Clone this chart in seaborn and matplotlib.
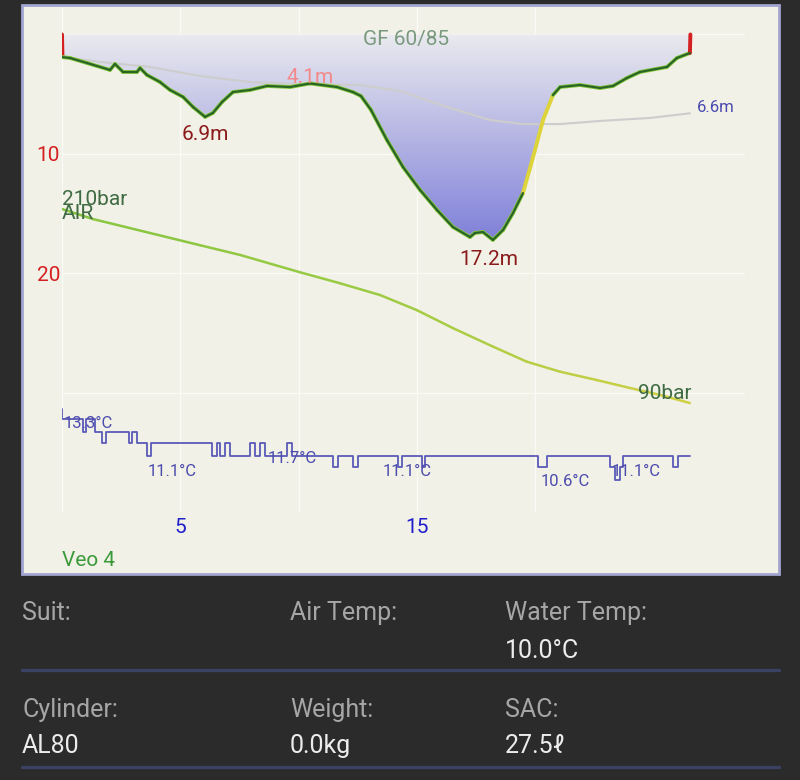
import numpy as np
import matplotlib
matplotlib.use("Agg")
import matplotlib.pyplot as plt
import seaborn as sns
from matplotlib.colors import LinearSegmentedColormap
from matplotlib.collections import LineCollection
from matplotlib.patches import Rectangle
from matplotlib.lines import Line2D

# ---- dive data (minutes / metres / bar / degC) ----
profile_time = [0.00, 0.02, 0.34, 1.06, 2.03, 2.24, 2.58, 3.17, 3.30, 3.59, 4.14, 4.57,
                5.12, 5.54, 6.05, 6.38, 6.77, 7.23, 7.95, 8.67, 9.64, 10.49, 11.63,
                12.30, 12.64, 13.06, 13.74, 14.42, 15.14, 15.86, 16.53, 17.25, 17.46,
                17.80, 18.22, 18.65, 19.07, 19.49, 19.92, 20.34, 20.76, 21.06, 21.90,
                22.75, 23.30, 23.89, 24.44, 25.58, 26.00, 26.55, 26.57]
profile_depth = [0.0, 1.9, 1.97, 2.39, 2.97, 2.47, 3.14, 3.14, 2.81, 3.39, 3.98, 4.65,
                 5.23, 6.07, 6.90, 6.57, 5.65, 4.82, 4.65, 4.31, 4.40, 4.10, 4.40,
                 4.82, 5.15, 6.30, 8.84, 11.10, 13.02, 14.70, 16.12, 16.96, 16.62,
                 16.54, 17.20, 16.37, 14.95, 13.28, 10.26, 7.16, 5.07, 4.40, 4.23,
                 4.48, 4.31, 3.64, 3.14, 2.72, 1.97, 1.55, 0.0]

avg_time = [0.00, 1.61, 3.72, 5.84, 7.95, 10.06, 12.60, 14.29, 16.41, 18.10, 19.49,
            21.06, 22.75, 24.86, 26.55]
avg_depth = [1.88, 2.30, 2.72, 3.48, 3.98, 4.15, 4.23, 4.73, 6.16, 7.16, 7.50,
             7.50, 7.24, 6.99, 6.60]

pressure_time = [0.00, 1.31, 5.84, 7.53, 10.06, 11.75, 13.45, 15.00, 16.55, 18.24,
                 19.65, 21.06, 22.62, 24.02, 25.30, 26.55]
pressure_bar = [210, 203.8, 187.6, 181.6, 170.9, 164.1, 156.8, 147.5, 136.2, 124.8,
                115.6, 109.4, 104.2, 99.3, 95.0, 90]

temp_time = [0.00, 0.02, 0.89, 1.01, 1.40, 1.69, 1.86, 2.83, 2.96, 3.17, 3.59, 3.76,
             6.34, 6.55, 6.68, 6.89, 7.10, 7.95, 8.16, 8.37, 8.58, 9.51, 9.73, 11.46,
             11.67, 12.30, 12.52, 14.21, 14.38, 15.22, 15.35, 20.13, 20.51, 23.17,
             23.38, 23.59, 23.72, 25.84, 26.05, 26.55]
temp_c = [13.3, 12.8, 12.2, 12.8, 12.2, 11.7, 12.2, 11.7, 12.2, 11.7, 11.1, 11.7,
          11.1, 11.7, 11.1, 11.7, 11.1, 11.7, 11.1, 11.7, 11.1, 11.7, 11.1, 10.6,
          11.1, 10.6, 11.1, 10.6, 11.1, 10.6, 11.1, 10.6, 11.1, 10.6,
          10.0, 10.6, 11.1, 10.6, 11.1, 11.1]

temp_label_time = [0.08, 4.67, 9.73, 14.61, 21.27, 24.27]
temp_label_value = [13.3, 11.1, 11.7, 11.1, 10.6, 11.1]

x_ticks = [0, 5, 10, 15, 20]
x_tick_labels = ["", "5", "", "15", ""]
y_ticks = [0, 10, 20, 30, 40]
y_tick_labels = ["", "10", "20", "", ""]

info_labels = ["Suit:", "Air Temp:", "Water Temp:", "Cylinder:", "Weight:", "SAC:"]
info_values = ["", "", "10.0°C", "AL80", "0.0kg", "27.5ℓ"]

# ---- style ----
sns.set_theme(style="white")
plt.rcParams['font.family'] = ['Roboto', 'DejaVu Sans']

W, H = 800, 780
fig = plt.figure(figsize=(8, 7.8), dpi=100)
fig.patch.set_facecolor('#2b2b2b')


def fx(px):
    return px / W


def fy(py):
    return 1 - py / H


panel = Rectangle((fx(22), fy(574)), (779 - 22) / W, (574 - 5) / H,
                  transform=fig.transFigure, facecolor='#f2f1e7',
                  edgecolor='#a3a4d0', lw=2, zorder=-1)
fig.patches.append(panel)

ax = fig.add_axes([fx(62), fy(512.2), 683 / W, 504 / H])
ax.set_facecolor('none')
for s in ax.spines.values():
    s.set_visible(False)

t_arr = np.array(profile_time)
d_arr = np.array(profile_depth)

# gradient fill under the profile
fill_cmap = LinearSegmentedColormap.from_list('depthfill', ['#eaeaef', '#7b7cd8'])
grad = np.linspace(0, 1, 256).reshape(-1, 1)
img = ax.imshow(grad, extent=[t_arr.min(), t_arr.max(), 18, 0], aspect='auto',
                cmap=fill_cmap, origin='upper', zorder=1, interpolation='bilinear')
poly = ax.fill_between(t_arr, 0, d_arr, facecolor='none', edgecolor='none')
img.set_clip_path(poly.get_paths()[0], transform=ax.transData)

# average depth line
sns.lineplot(x=avg_time, y=avg_depth, ax=ax, color='#cdcdcd', lw=1.5,
             estimator=None, sort=False, zorder=2)

# depth profile, coloured by vertical speed
pts = np.column_stack([t_arr, d_arr])
segs = np.stack([pts[:-1], pts[1:]], axis=1)
rate = np.diff(d_arr) / np.maximum(np.diff(t_arr), 1e-3)
seg_cols = []
for i, r in enumerate(rate):
    if i == 0 or i == len(rate) - 1:
        seg_cols.append('#d42020')
    elif r < -4.5:
        seg_cols.append('#dcd43a')
    else:
        seg_cols.append('#86c93c')
ax.add_collection(LineCollection(segs, colors=seg_cols, lw=2.8, zorder=3,
                                 capstyle='round'))
flat = [i for i, r in enumerate(rate) if abs(r) < 4 and 0 < i < len(rate) - 1]
ax.add_collection(LineCollection(segs[flat], colors='#2a6427', lw=1.6, zorder=4,
                                 capstyle='round'))

ax.set_xlim(0, 683 / 23.65)
ax.set_ylim(40, -2.2)
ax.set_xticks(x_ticks)
ax.set_xticklabels(x_tick_labels)
ax.set_yticks(y_ticks)
ax.set_yticklabels(y_tick_labels)
ax.tick_params(axis='y', colors='#d42020', labelsize=15, length=0, pad=1.5)
ax.tick_params(axis='x', colors='#1f1fcc', labelsize=15, length=0, pad=4)
ax.set_xlabel("")
ax.set_ylabel("")
ax.grid(True, color='#fafaf6', lw=1.0)
ax.set_axisbelow(True)

# depth annotations
i1 = int(np.argmax(np.where(t_arr < 10, d_arr, -1)))
i2 = int(np.argmax(d_arr))
i3 = int(np.argmin(np.where((t_arr > 8) & (t_arr < 12), d_arr, 99)))
ax.annotate(f"{d_arr[i1]:.1f}m", (t_arr[i1], d_arr[i1]), xytext=(0, -6),
            textcoords='offset points', ha='center', va='top', color='#8b1a1a',
            fontsize=15, zorder=6)
ax.annotate(f"{d_arr[i2]:.1f}m", (t_arr[i2], d_arr[i2]), xytext=(-3, -7),
            textcoords='offset points', ha='center', va='top', color='#8b1a1a',
            fontsize=15, zorder=6)
ax.annotate(f"{d_arr[i3]:.1f}m", (t_arr[i3], d_arr[i3]), xytext=(0, 0),
            textcoords='offset points', ha='center', va='baseline', color='#f28a8a',
            fontsize=15, zorder=6)
ax.annotate(f"{avg_depth[-1]:.1f}m", (avg_time[-1], avg_depth[-1]), xytext=(5, 4),
            textcoords='offset points', ha='left', va='center', color='#4a4ab0',
            fontsize=12, zorder=6)
ax.text(0.5037, 0.937, "GF 60/85", transform=ax.transAxes, ha='center', va='center',
        color='#7a9a80', fontsize=15, zorder=6)

# pressure on its own scale
axp = ax.twinx()
axp.set_axis_off()
axp.set_ylim(22.5, 334.2)
pt = np.array(pressure_time)
pb = np.array(pressure_bar)
ppts = np.column_stack([pt, pb])
psegs = np.stack([ppts[:-1], ppts[1:]], axis=1)
pcmap = LinearSegmentedColormap.from_list('press', ['#84c440', '#9ccb44', '#d2d044'])
pline = LineCollection(psegs, cmap=pcmap, lw=1.8, zorder=3, capstyle='round',
                       joinstyle='round')
pline.set_array((pt[:-1] + pt[1:]) / 2)
pline.set_clim(0, pt.max())
axp.add_collection(pline)
axp.annotate(f"{pb[0]:.0f}bar", (pt[0], pb[0]), xytext=(0, 6.5),
             textcoords='offset points', ha='left', va='center', color='#3f6b43',
             fontsize=15)
axp.annotate("AIR", (pt[0], pb[0]), xytext=(0, -3),
             textcoords='offset points', ha='left', va='center', color='#3f6b43',
             fontsize=15)
axp.annotate(f"{pb[-1]:.0f}bar", (pt[-1], pb[-1]), xytext=(1, 7),
             textcoords='offset points', ha='right', va='center', color='#3f6b43',
             fontsize=15)

# temperature on its own scale
axt = ax.twinx()
axt.set_axis_off()
axt.set_ylim(8.5, 31.83)
sns.lineplot(x=temp_time, y=temp_c, ax=axt, color='#5a5ab8', lw=1.3,
             drawstyle='steps-post', estimator=None, sort=False)
for k, (tt, tv) in enumerate(zip(temp_label_time, temp_label_value)):
    axt.annotate(f"{tv:.1f}°C", (tt, tv), xytext=(0, -5.5), textcoords='offset points',
                 ha='left' if k == 0 else 'center', va='top', color='#4c4cad',
                 fontsize=12)
axt.set_xlim(ax.get_xlim())

fig.text(fx(62), fy(560), "Veo 4", color='#3a9a3a', fontsize=15, va='center', ha='left')

# info block under the chart
cols_x = [22, 290, 505]
rows_y = [(613, 651), (710, 746)]
for k, (lab, val) in enumerate(zip(info_labels, info_values)):
    r, c = divmod(k, 3)
    fig.text(fx(cols_x[c]), fy(rows_y[r][0]), lab, color='#a6a6a6', fontsize=18,
             va='center', ha='left')
    if val:
        fig.text(fx(cols_x[c]), fy(rows_y[r][1]), val, color='#ececec', fontsize=18,
                 va='center', ha='left')
for yy in [670, 767]:
    fig.add_artist(Line2D([fx(22), fx(779)], [fy(yy), fy(yy)], transform=fig.transFigure,
                          color='#3b4163', lw=2.4))

fig.savefig("out.png", dpi=100, facecolor=fig.get_facecolor())
